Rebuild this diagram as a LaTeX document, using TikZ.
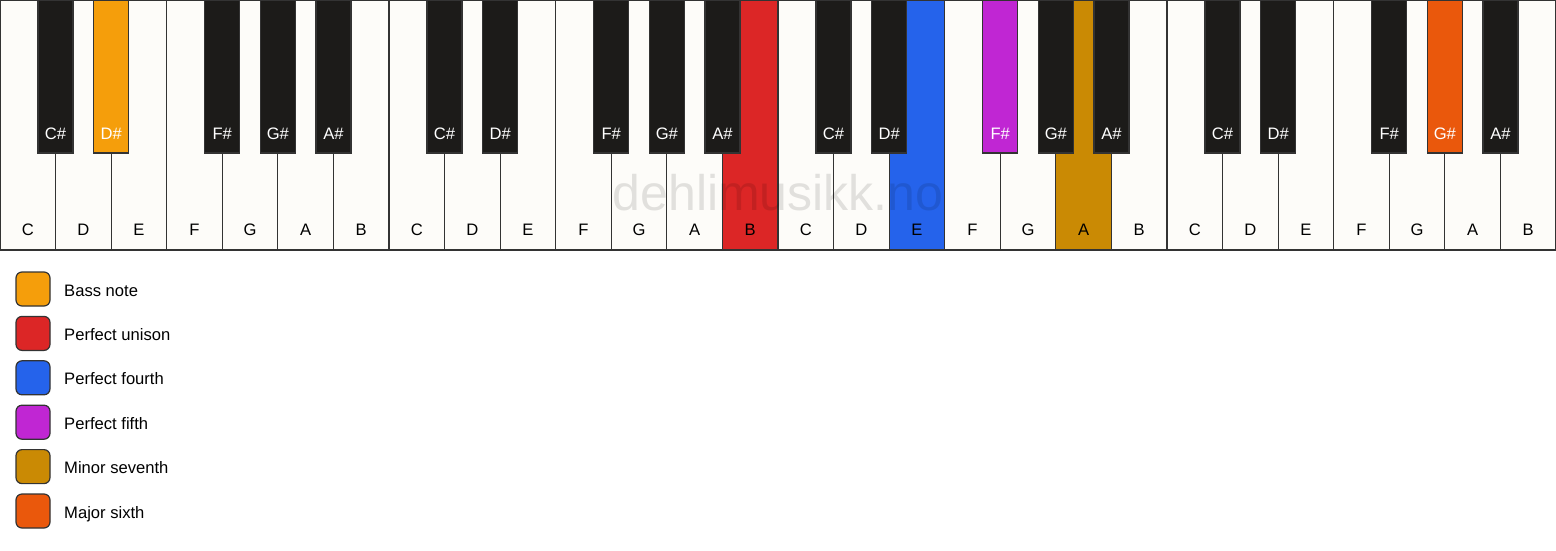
\documentclass[tikz,border=0pt]{standalone}
\usepackage{fontspec}
\setmainfont{Liberation Sans}
\usetikzlibrary{positioning}

\definecolor{keywhite}{HTML}{FDFCF9}
\definecolor{keyblack}{HTML}{1C1B19}
\definecolor{keyline}{HTML}{333333}
\definecolor{bassnote}{HTML}{F59E0B}
\definecolor{unison}{HTML}{DC2626}
\definecolor{fourth}{HTML}{2563EB}
\definecolor{fifth}{HTML}{C026D3}
\definecolor{minseventh}{HTML}{CA8A04}
\definecolor{majsixth}{HTML}{EA580C}

\tikzset{
    whitekey/.style={draw=keyline, line width=1.2pt},
    blackkey/.style={draw=keyline, line width=1.2pt},
    keylabel/.style={font=\fontsize{16.6}{19}\selectfont, inner sep=0pt},
    swatch/.style={draw=keyline, line width=1.2pt, rounded corners=6pt}
}

\begin{document}
\begin{tikzpicture}[x=1pt, y=-1pt]
    % Page size and background
    \useasboundingbox (0,0) rectangle (1556,550);
    \fill[white] (0,0) rectangle (1556,550);

    % --- White keys (four octaves) ---
    \foreach \n/\c [count=\i from 0] in {
        C/keywhite, D/keywhite, E/keywhite, F/keywhite, G/keywhite, A/keywhite, B/keywhite,
        C/keywhite, D/keywhite, E/keywhite, F/keywhite, G/keywhite, A/keywhite, B/unison,
        C/keywhite, D/keywhite, E/fourth, F/keywhite, G/keywhite, A/minseventh, B/keywhite,
        C/keywhite, D/keywhite, E/keywhite, F/keywhite, G/keywhite, A/keywhite, B/keywhite} {
        \draw[whitekey, fill=\c] ({\i*55.571},0) rectangle ({(\i+1)*55.571},250);
        \node[keylabel, anchor=base] (w\i) at ({(\i+0.5)*55.571},235.5) {\n};
    }

    % Bottom edge of the keyboard
    \draw[keyline, line width=1.6pt] (0,250) -- (1556,250);

    % Watermark
    \node[font=\fontsize{50}{60}\selectfont, text=black, opacity=0.11] (mark) at (778,193) {dehlimusikk.no};

    % --- Black keys, placed on the boundary between two white keys ---
    \foreach \n/\c/\k [count=\j] in {
        C\#/keyblack/1, D\#/bassnote/2, F\#/keyblack/4, G\#/keyblack/5, A\#/keyblack/6,
        C\#/keyblack/8, D\#/keyblack/9, F\#/keyblack/11, G\#/keyblack/12, A\#/keyblack/13,
        C\#/keyblack/15, D\#/keyblack/16, F\#/fifth/18, G\#/keyblack/19, A\#/keyblack/20,
        C\#/keyblack/22, D\#/keyblack/23, F\#/keyblack/25, G\#/majsixth/26, A\#/keyblack/27} {
        \draw[blackkey, fill=\c] ({\k*55.571-17.5},0) rectangle ({\k*55.571+17.5},153);
        \node[keylabel, anchor=base, text=white] (b\j) at ({\k*55.571},139) {\n};
    }

    % --- Legend ---
    \foreach \t/\c [count=\j from 0] in {
        Bass note/bassnote, Perfect unison/unison, Perfect fourth/fourth,
        Perfect fifth/fifth, Minor seventh/minseventh, Major sixth/majsixth} {
        \draw[swatch, fill=\c] (16,{272+\j*44.4}) rectangle (50,{306+\j*44.4});
        \node[keylabel, anchor=base west] (leg\j) at (64,{296+\j*44.4}) {\t};
    }
\end{tikzpicture}
\end{document}
